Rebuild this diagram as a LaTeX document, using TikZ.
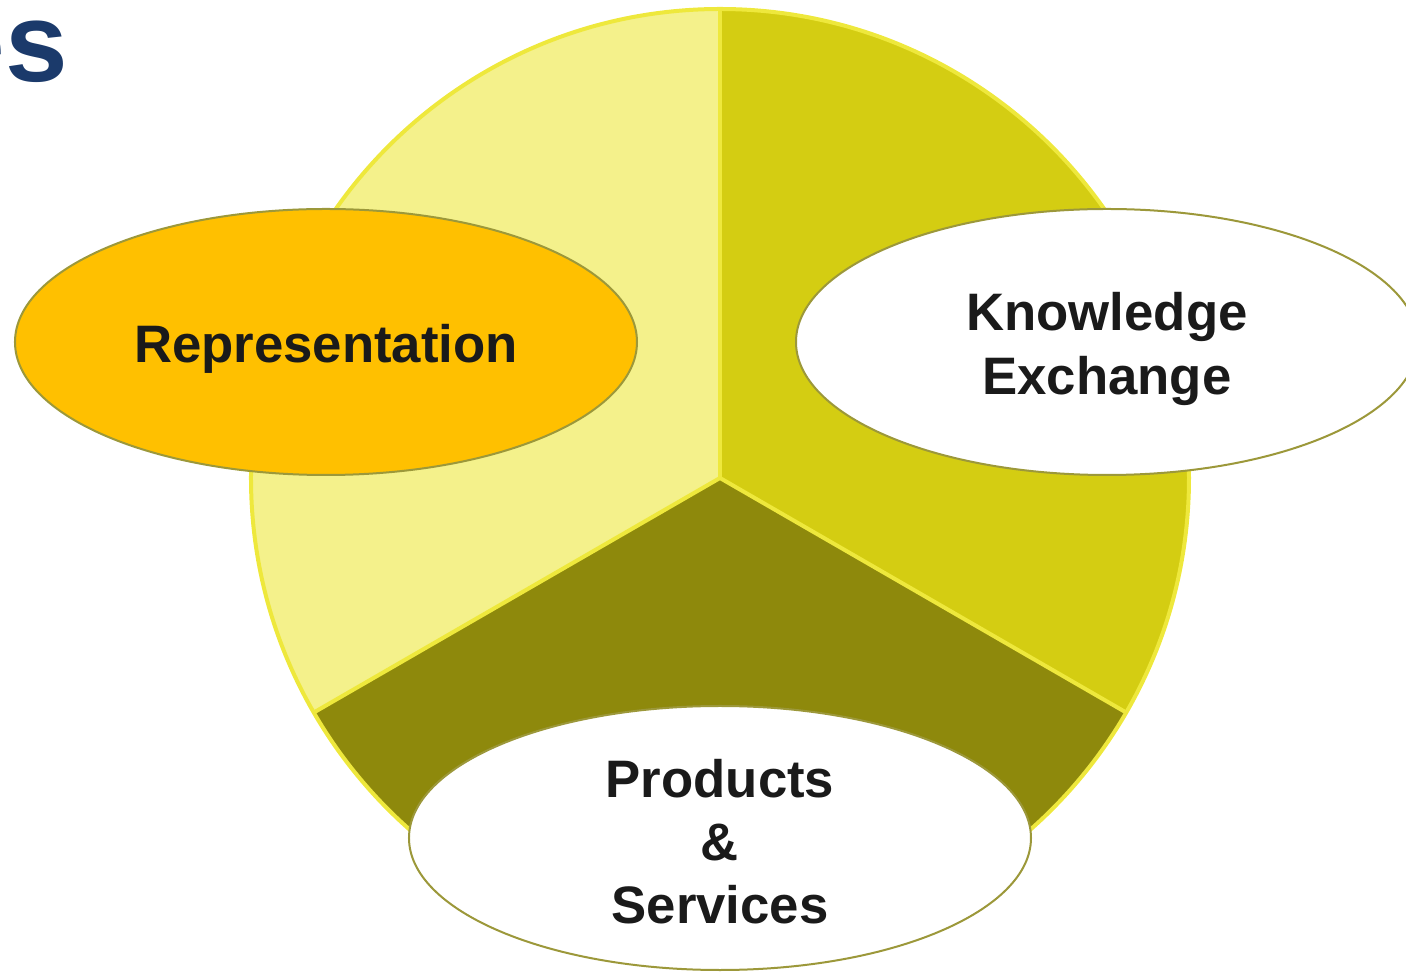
\documentclass[tikz,border=0pt]{standalone}
\usepackage{fontspec}
\setmainfont{Liberation Sans}
\usetikzlibrary{positioning,shapes.geometric}
\definecolor{paleyel}{HTML}{F4F18B}
\definecolor{midyel}{HTML}{D4CD12}
\definecolor{darkolive}{HTML}{8E890C}
\definecolor{rimyel}{HTML}{EEE83C}
\definecolor{ovaledge}{HTML}{9C983A}
\definecolor{goldfill}{HTML}{FFC000}
\definecolor{txtdark}{HTML}{1A1A1A}
\definecolor{titleblue}{HTML}{1B3A6B}
\tikzset{
  oval/.style={ellipse,draw=ovaledge,line width=0.4mm,minimum width=124.4mm,minimum height=53.2mm,inner sep=0pt},
  ovaltext/.style={inner sep=0pt,align=center,text=txtdark,font=\bfseries\fontsize{30}{36}\selectfont},
  rim/.style={draw=rimyel,line width=0.8mm}
}

\begin{document}
\begin{tikzpicture}[x=0.2mm,y=0.2mm]
\useasboundingbox (-720,-495) rectangle (686,478);
\clip (-720,-495) rectangle (686,478);
% Three sectors of the circle
\coordinate (o) at (0,0);
\coordinate (top) at (90:469);
\coordinate (lft) at (210:469);
\coordinate (rgt) at (330:469);
\fill[paleyel] (o) -- (top) arc[start angle=90,end angle=210,radius=469] -- cycle;
\fill[midyel] (o) -- (rgt) arc[start angle=-30,end angle=90,radius=469] -- cycle;
\fill[darkolive] (o) -- (lft) arc[start angle=210,end angle=330,radius=469] -- cycle;

% Rim and dividing lines
\draw[rim] (o) circle[radius=469];
\draw[rim] (o) -- (top);
\draw[rim] (o) -- (lft);
\draw[rim] (o) -- (rgt);

% Ovals
\node[oval,fill=goldfill] (repr) at (-394,136) {};
\node[oval,fill=white] (know) at (387,136) {};
\node[oval,fill=white,minimum height=52.8mm] (prod) at (0,-360) {};

% Oval texts
\node[ovaltext] (reprtext) at ([yshift=-1.4mm]repr.center) {Representation};
\node[ovaltext] (knowtext) at ([yshift=-1.4mm]know.center) {Knowledge\\Exchange};
\node[ovaltext] (prodtext) at ([yshift=-0.7mm]prod.center) {Products\\\&\\Services};

% Cut-off title
\node[anchor=base east,inner sep=0pt,text=titleblue,font=\bfseries\fontsize{64}{64}\selectfont] (title) at (-652,396) {es};
\end{tikzpicture}
\end{document}
